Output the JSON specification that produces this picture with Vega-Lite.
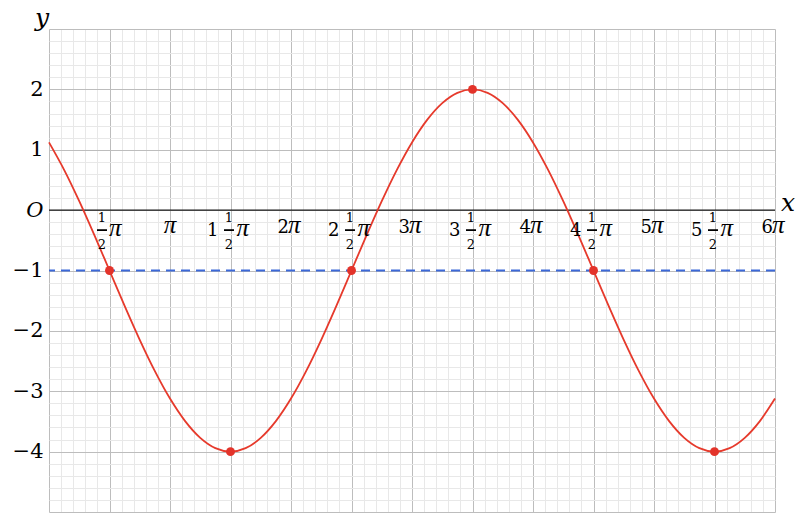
{
  "$schema": "https://vega.github.io/schema/vega-lite/v6.json",
  "width": 726,
  "height": 483,
  "autosize": {"type": "none"},
  "padding": {"left": 49, "top": 29, "right": 29, "bottom": 12},
  "background": "white",
  "config": {"view": {"stroke": null}, "font": "DejaVu Serif"},
  "datasets": {
    "curve": [
      {"t": 0, "y": 1.1213}, {"t": 0.125, "y": 0.6667}, {"t": 0.25, "y": 0.1481}, {"t": 0.375, "y": -0.4147},
      {"t": 0.5, "y": -1}, {"t": 0.625, "y": -1.5853}, {"t": 0.75, "y": -2.1481}, {"t": 0.875, "y": -2.6667},
      {"t": 1, "y": -3.1213}, {"t": 1.125, "y": -3.4944}, {"t": 1.25, "y": -3.7716}, {"t": 1.375, "y": -3.9424},
      {"t": 1.5, "y": -4}, {"t": 1.625, "y": -3.9424}, {"t": 1.75, "y": -3.7716}, {"t": 1.875, "y": -3.4944},
      {"t": 2, "y": -3.1213}, {"t": 2.125, "y": -2.6667}, {"t": 2.25, "y": -2.1481}, {"t": 2.375, "y": -1.5853},
      {"t": 2.5, "y": -1}, {"t": 2.625, "y": -0.4147}, {"t": 2.75, "y": 0.1481}, {"t": 2.875, "y": 0.6667},
      {"t": 3, "y": 1.1213}, {"t": 3.125, "y": 1.4944}, {"t": 3.25, "y": 1.7716}, {"t": 3.375, "y": 1.9424},
      {"t": 3.5, "y": 2}, {"t": 3.625, "y": 1.9424}, {"t": 3.75, "y": 1.7716}, {"t": 3.875, "y": 1.4944},
      {"t": 4, "y": 1.1213}, {"t": 4.125, "y": 0.6667}, {"t": 4.25, "y": 0.1481}, {"t": 4.375, "y": -0.4147},
      {"t": 4.5, "y": -1}, {"t": 4.625, "y": -1.5853}, {"t": 4.75, "y": -2.1481}, {"t": 4.875, "y": -2.6667},
      {"t": 5, "y": -3.1213}, {"t": 5.125, "y": -3.4944}, {"t": 5.25, "y": -3.7716}, {"t": 5.375, "y": -3.9424},
      {"t": 5.5, "y": -4}, {"t": 5.625, "y": -3.9424}, {"t": 5.75, "y": -3.7716}, {"t": 5.875, "y": -3.4944},
      {"t": 6, "y": -3.1213}
    ],
    "points": [
      {"t": 0.5, "y": -1}, {"t": 1.5, "y": -4}, {"t": 2.5, "y": -1},
      {"t": 3.5, "y": 2}, {"t": 4.5, "y": -1}, {"t": 5.5, "y": -4}
    ],
    "lines": [{"name": "xaxis", "y": 0}, {"name": "level", "y": -1}],
    "intLabels": [
      {"t": 1, "n": ""}, {"t": 2, "n": "2"}, {"t": 3, "n": "3"},
      {"t": 4, "n": "4"}, {"t": 5, "n": "5"}, {"t": 6, "n": "6"}
    ],
    "fracLabels": [
      {"t": 1.5, "whole": "1"}, {"t": 2.5, "whole": "2"}, {"t": 3.5, "whole": "3"},
      {"t": 4.5, "whole": "4"}, {"t": 5.5, "whole": "5"}
    ],
    "halfLabel": [{"t": 0.5}],
    "titles": [
      {"t": 0, "y": 3, "label": "y", "name": "ytitle"},
      {"t": 6, "y": 0, "label": "x", "name": "xtitle"}
    ]
  },
  "layer": [
    {
      "data": {"name": "curve"},
      "mark": {"type": "line", "color": "#e63a2c", "strokeWidth": 1.6, "interpolate": "monotone", "opacity": 0},
      "encoding": {
        "x": {
          "field": "t", "type": "quantitative",
          "scale": {"domain": [0, 6], "nice": false, "zero": false},
          "axis": {
            "values": [0,0.1,0.2,0.3,0.4,0.5,0.6,0.7,0.8,0.9,1,1.1,1.2,1.3,1.4,1.5,1.6,1.7,1.8,1.9,2,2.1,2.2,2.3,2.4,2.5,2.6,2.7,2.8,2.9,3,3.1,3.2,3.3,3.4,3.5,3.6,3.7,3.8,3.9,4,4.1,4.2,4.3,4.4,4.5,4.6,4.7,4.8,4.9,5,5.1,5.2,5.3,5.4,5.5,5.6,5.7,5.8,5.9,6],
            "tickCount": 1000,
            "grid": true,
            "gridColor": {"condition": {"test": "abs(datum.value*2 - round(datum.value*2)) < 0.01", "value": "#bdbdbd"}, "value": "#e8e8e8"},
            "gridOpacity": 1,
            "gridWidth": 1,
            "labels": false, "ticks": false, "domain": false, "title": null
          }
        },
        "y": {
          "field": "y", "type": "quantitative",
          "scale": {"domain": [-5, 3], "nice": false, "zero": false},
          "axis": {
            "values": [-5,-4.8,-4.6,-4.4,-4.2,-4,-3.8,-3.6,-3.4,-3.2,-3,-2.8,-2.6,-2.4,-2.2,-2,-1.8,-1.6,-1.4,-1.2,-1,-0.8,-0.6,-0.4,-0.2,0,0.2,0.4,0.6,0.8,1,1.2,1.4,1.6,1.8,2,2.2,2.4,2.6,2.8,3],
            "tickCount": 1000,
            "grid": true,
            "gridColor": {"condition": {"test": "abs(datum.value - round(datum.value)) < 0.01", "value": "#bdbdbd"}, "value": "#e8e8e8"},
            "gridOpacity": 1,
            "gridWidth": 1,
            "labelExpr": "abs(datum.value) < 0.01 ? 'O' : (abs(datum.value - round(datum.value)) < 0.01 && datum.value > -4.5 && datum.value < 2.5 ? replace(toString(round(datum.value)), '-', '−') : '')",
            "labelFont": "DejaVu Serif",
            "labelFontSize": 21,
            "labelFontStyle": {"condition": {"test": "abs(datum.value) < 0.01", "value": "italic"}, "value": "normal"},
            "labelColor": "#000000",
            "labelPadding": 6,
            "labelOverlap": false,
            "ticks": false, "domain": false, "title": null
          }
        }
      }
    },
    {
      "data": {"name": "lines"},
      "transform": [{"filter": "datum.name == 'xaxis'"}],
      "mark": {"type": "rule", "color": "#1a1a1a", "strokeWidth": 1.3},
      "encoding": {"y": {"field": "y", "type": "quantitative"}}
    },
    {
      "data": {"name": "lines"},
      "transform": [{"filter": "datum.name == 'level'"}],
      "mark": {"type": "rule", "color": "#3b68d8", "strokeWidth": 2, "strokeDash": [9, 6]},
      "encoding": {"y": {"field": "y", "type": "quantitative"}}
    },
    {
      "data": {"name": "curve"},
      "mark": {"type": "line", "color": "#e63a2c", "strokeWidth": 1.8, "interpolate": "monotone"},
      "encoding": {
        "x": {"field": "t", "type": "quantitative"},
        "y": {"field": "y", "type": "quantitative"}
      }
    },
    {
      "data": {"name": "points"},
      "mark": {"type": "circle", "color": "#e3332a", "opacity": 1, "size": 80},
      "encoding": {
        "x": {"field": "t", "type": "quantitative"},
        "y": {"field": "y", "type": "quantitative"}
      }
    },
    {
      "data": {"name": "intLabels"},
      "transform": [{"filter": "datum.n == ''"}],
      "mark": {"type": "text", "font": "Liberation Serif", "fontSize": 25, "fontStyle": "italic", "align": "center", "baseline": "alphabetic", "dy": 23, "color": "#000"},
      "encoding": {
        "x": {"field": "t", "type": "quantitative"},
        "y": {"datum": 0},
        "text": {"value": "π"}
      }
    },
    {
      "data": {"name": "intLabels"},
      "transform": [{"filter": "datum.n != ''"}],
      "mark": {"type": "text", "font": "DejaVu Serif", "fontSize": 18, "align": "right", "baseline": "alphabetic", "dx": -2, "dy": 23, "color": "#000"},
      "encoding": {
        "x": {"field": "t", "type": "quantitative"},
        "y": {"datum": 0},
        "text": {"field": "n"}
      }
    },
    {
      "data": {"name": "intLabels"},
      "transform": [{"filter": "datum.n != ''"}],
      "mark": {"type": "text", "font": "Liberation Serif", "fontSize": 25, "fontStyle": "italic", "align": "left", "baseline": "alphabetic", "dx": -3, "dy": 23, "color": "#000"},
      "encoding": {
        "x": {"field": "t", "type": "quantitative"},
        "y": {"datum": 0},
        "text": {"value": "π"}
      }
    },
    {
      "data": {"name": "fracLabels"},
      "mark": {"type": "text", "font": "DejaVu Serif", "fontSize": 18, "align": "right", "baseline": "alphabetic", "dx": -12, "dy": 26, "color": "#000"},
      "encoding": {
        "x": {"field": "t", "type": "quantitative"},
        "y": {"datum": 0},
        "text": {"field": "whole"}
      }
    },
    {
      "data": {"name": "fracLabels"},
      "mark": {"type": "text", "font": "DejaVu Serif", "fontSize": 13, "align": "center", "baseline": "alphabetic", "dx": -1.5, "dy": 12, "color": "#000"},
      "encoding": {
        "x": {"field": "t", "type": "quantitative"},
        "y": {"datum": 0},
        "text": {"value": "1"}
      }
    },
    {
      "data": {"name": "fracLabels"},
      "mark": {"type": "tick", "orient": "horizontal", "size": 10, "thickness": 1.8, "xOffset": -1.5, "yOffset": 20, "color": "#000", "opacity": 1},
      "encoding": {
        "x": {"field": "t", "type": "quantitative"},
        "y": {"datum": 0}
      }
    },
    {
      "data": {"name": "fracLabels"},
      "mark": {"type": "text", "font": "DejaVu Serif", "fontSize": 13, "align": "center", "baseline": "alphabetic", "dx": -1.5, "dy": 39, "color": "#000"},
      "encoding": {
        "x": {"field": "t", "type": "quantitative"},
        "y": {"datum": 0},
        "text": {"value": "2"}
      }
    },
    {
      "data": {"name": "fracLabels"},
      "mark": {"type": "text", "font": "Liberation Serif", "fontSize": 25, "fontStyle": "italic", "align": "left", "baseline": "alphabetic", "dx": 6, "dy": 26, "color": "#000"},
      "encoding": {
        "x": {"field": "t", "type": "quantitative"},
        "y": {"datum": 0},
        "text": {"value": "π"}
      }
    },
    {
      "data": {"name": "halfLabel"},
      "mark": {"type": "text", "font": "DejaVu Serif", "fontSize": 13, "align": "center", "baseline": "alphabetic", "dx": -7.5, "dy": 12, "color": "#000"},
      "encoding": {
        "x": {"field": "t", "type": "quantitative"},
        "y": {"datum": 0},
        "text": {"value": "1"}
      }
    },
    {
      "data": {"name": "halfLabel"},
      "mark": {"type": "tick", "orient": "horizontal", "size": 10, "thickness": 1.8, "xOffset": -7.5, "yOffset": 20, "color": "#000", "opacity": 1},
      "encoding": {
        "x": {"field": "t", "type": "quantitative"},
        "y": {"datum": 0}
      }
    },
    {
      "data": {"name": "halfLabel"},
      "mark": {"type": "text", "font": "DejaVu Serif", "fontSize": 13, "align": "center", "baseline": "alphabetic", "dx": -7.5, "dy": 39, "color": "#000"},
      "encoding": {
        "x": {"field": "t", "type": "quantitative"},
        "y": {"datum": 0},
        "text": {"value": "2"}
      }
    },
    {
      "data": {"name": "halfLabel"},
      "mark": {"type": "text", "font": "Liberation Serif", "fontSize": 25, "fontStyle": "italic", "align": "left", "baseline": "alphabetic", "dx": -0.5, "dy": 26, "color": "#000"},
      "encoding": {
        "x": {"field": "t", "type": "quantitative"},
        "y": {"datum": 0},
        "text": {"value": "π"}
      }
    },
    {
      "data": {"name": "titles"},
      "transform": [{"filter": "datum.name == 'ytitle'"}],
      "mark": {"type": "text", "font": "DejaVu Serif", "fontSize": 25, "fontStyle": "italic", "align": "center", "baseline": "alphabetic", "dx": -7, "dy": -3, "color": "#000"},
      "encoding": {
        "x": {"field": "t", "type": "quantitative"},
        "y": {"field": "y", "type": "quantitative"},
        "text": {"field": "label"}
      }
    },
    {
      "data": {"name": "titles"},
      "transform": [{"filter": "datum.name == 'xtitle'"}],
      "mark": {"type": "text", "font": "DejaVu Serif", "fontSize": 25, "fontStyle": "italic", "align": "center", "baseline": "alphabetic", "dx": 13, "dy": 1, "color": "#000"},
      "encoding": {
        "x": {"field": "t", "type": "quantitative"},
        "y": {"field": "y", "type": "quantitative"},
        "text": {"field": "label"}
      }
    }
  ]
}
